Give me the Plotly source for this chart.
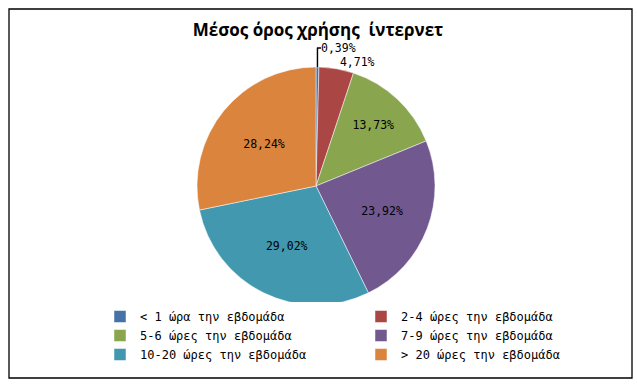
import plotly.graph_objects as go

categories = ["< 1 ώρα την εβδομάδα", "2-4 ώρες την εβδομάδα", "5-6 ώρες την εβδομάδα",
              "7-9 ώρες την εβδομάδα", "10-20 ώρες την εβδομάδα", "> 20 ώρες την εβδομάδα"]
values = [0.39, 4.71, 13.73, 23.92, 29.02, 28.24]
colors = ["#4572A7", "#AA4643", "#89A54E", "#71588F", "#4198AF", "#DB843D"]
text_labels = [f"{v:.2f}%".replace(".", ",") for v in values]
positions = ["outside", "outside", "inside", "inside", "inside", "inside"]

W, H = 637, 387
cx, cy, half = 316, 186, 119

fig = go.Figure(go.Pie(
    labels=categories, values=values, sort=False, direction="clockwise", rotation=0,
    marker=dict(colors=colors, line=dict(color="white", width=0.5)),
    text=text_labels, texttemplate="%{text}", textinfo="text",
    textposition=positions, insidetextorientation="horizontal",
    textfont=dict(family="DejaVu Sans Mono", size=11.5, color="black"),
    domain=dict(x=[(cx - half) / W, (cx + half) / W], y=[1 - (cy + half) / H, 1 - (cy - half) / H]),
    hoverinfo="label+percent", automargin=False,
))

fig.update_layout(
    width=W, height=H, margin=dict(l=0, r=0, t=0, b=0),
    paper_bgcolor="white", plot_bgcolor="white",
    title=dict(text="<b>Μέσος όρος χρήσης\u00a0 ίντερνετ</b>", x=318 / W, xanchor="center",
               y=1 - 30 / H, yanchor="middle",
               font=dict(family="Open Sans", size=17, color="black")),
    legend=dict(orientation="h", x=100 / W, xanchor="left", y=1 - 302 / H, yanchor="top",
                entrywidth=216, entrywidthmode="pixels", itemwidth=30,
                font=dict(family="DejaVu Sans Mono", size=12, color="black"),
                tracegroupgap=0, traceorder="normal"),
    shapes=[dict(type="rect", xref="paper", yref="paper",
                 x0=9 / W, x1=632 / W, y0=1 - 378 / H, y1=1 - 9 / H,
                 line=dict(color="black", width=1.3))],
)

fig.write_html("out.html", config={"displayModeBar": False},
               post_script="document.body.style.margin='0';")
